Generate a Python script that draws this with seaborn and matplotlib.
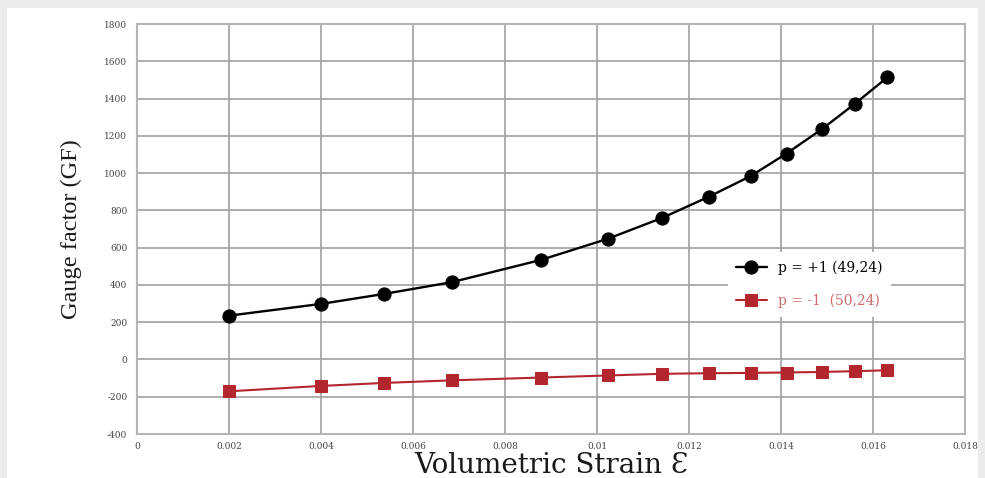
import matplotlib
matplotlib.use("Agg")
import matplotlib.pyplot as plt
import seaborn as sns
import pandas as pd
from matplotlib.patches import Rectangle

strain = [0.0020, 0.0040, 0.00538, 0.00685, 0.00878, 0.01023, 0.01142,
          0.01243, 0.01334, 0.01412, 0.01489, 0.01560, 0.01631]
gf_pos = [235, 298, 352, 415, 534, 647, 760, 873, 984, 1105, 1236, 1371, 1513]
gf_neg = [-171, -142, -126, -112, -97, -86, -77, -74, -72, -70, -67, -63, -58]
labels = ["p = +1 (49,24)", "p = -1  (50,24)"]
xticks = [0, 0.002, 0.004, 0.006, 0.008, 0.01, 0.012, 0.014, 0.016, 0.018]
xticklabels = ["0", "0.002", "0.004", "0.006", "0.008", "0.01", "0.012", "0.014", "0.016", "0.018"]
yticks = list(range(-400, 1801, 200))

sns.set_theme(style="white")
plt.rcParams['font.family'] = ['DejaVu Serif', 'DejaVu Sans']
plt.rcParams['axes.unicode_minus'] = False

W, H = 985, 478
fig = plt.figure(figsize=(W / 100, H / 100), dpi=100, facecolor="#ececec")
bg = Rectangle((7/W, 0), 1 - 14/W, 1 - 8/H, transform=fig.transFigure,
               facecolor="white", edgecolor="none", zorder=-10)
fig.patches.append(bg)
ax = fig.add_axes([137/W, 44/H, 828/W, 410/H])
ax.set_zorder(1)
ax.set_facecolor("white")

df_pos = pd.DataFrame({"strain": strain, "gf": gf_pos})
df_neg = pd.DataFrame({"strain": strain, "gf": gf_neg})

sns.lineplot(data=df_pos, x="strain", y="gf", ax=ax, color="black", marker="o",
             markersize=9.5, linewidth=1.7, markeredgecolor="black", label=labels[0], zorder=4)
sns.lineplot(data=df_neg, x="strain", y="gf", ax=ax, color="#b3262e", marker="s",
             markersize=8, linewidth=1.5, markeredgecolor="#b3262e", label=labels[1], zorder=4)

ax.set_xlim(0, 0.018)
ax.set_ylim(-400, 1800)
ax.set_xticks(xticks)
ax.set_xticklabels(xticklabels)
ax.set_yticks(yticks)
ax.grid(True, color="#a0a0a0", linewidth=1.2)
ax.set_axisbelow(True)
for s in ax.spines.values():
    s.set_color("#b5b5b5")
    s.set_linewidth(1.5)
ax.tick_params(axis="both", labelsize=6.5, colors="#444444", length=0, pad=7)
ax.tick_params(axis="x", pad=6)

ax.set_xlabel("")
fig.text((137 + 965) / 2 / W, 1 - 473 / H, "Volumetric Strain Ɛ", fontsize=20,
         family="DejaVu Serif", color="#1a1a1a", ha="center", va="baseline")
ax.set_ylabel("Gauge factor (GF)", fontsize=17.5, family=["Liberation Serif", "DejaVu Serif"],
              color="#1a1a1a", labelpad=16)

leg = ax.legend(loc="upper left", bbox_to_anchor=(0.705, 0.46), frameon=True, fontsize=10,
                handlelength=2.2, labelspacing=1.35, borderpad=0.6, fancybox=False)
leg.get_frame().set_facecolor("white")
leg.get_frame().set_edgecolor("none")
leg.get_frame().set_alpha(1)
leg.get_texts()[0].set_color("black")
leg.get_texts()[1].set_color("#d06a6a")

fig.savefig("out.png", dpi=100, facecolor=fig.get_facecolor())
